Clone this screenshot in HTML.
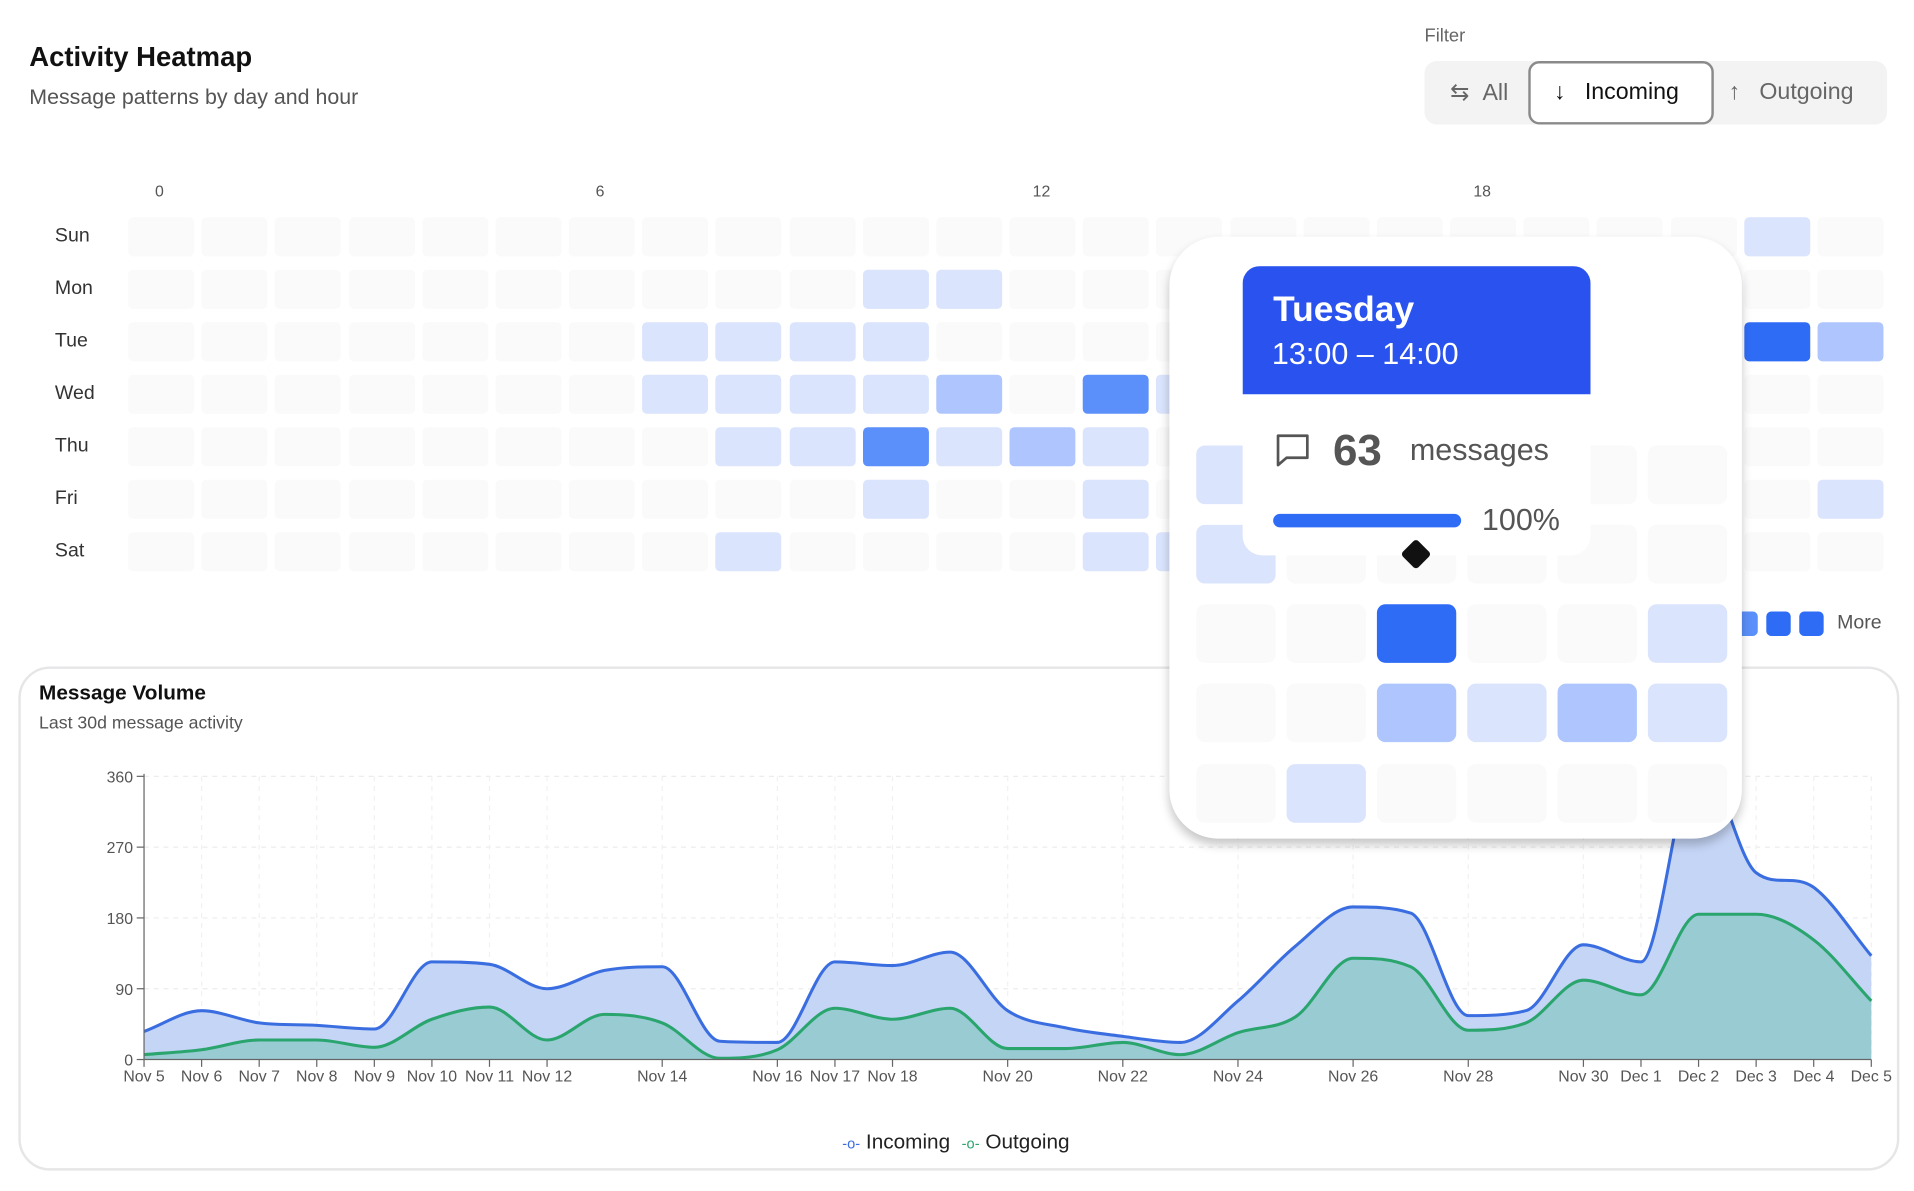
<!DOCTYPE html>
<html><head><meta charset="utf-8">
<style>
html,body{margin:0;padding:0;background:#fff;width:1914px;height:1191px;overflow:hidden}
#w{position:absolute;left:0;top:0;width:1568px;height:976px;transform:scale(1.22066);transform-origin:0 0;font-family:"Liberation Sans",sans-serif;color:#111}
.a{position:absolute;white-space:nowrap}
.c{position:absolute;border-radius:4px}
</style></head><body><div id="w">
<div class="a" style="left:24px;top:34px;font-size:22.5px;font-weight:bold">Activity Heatmap</div>
<div class="a" style="left:24px;top:69px;font-size:17.5px;color:#555">Message patterns by day and hour</div>
<div class="a" style="left:1167px;top:21px;font-size:15px;color:#666">Filter</div>
<div class="a" style="left:1167px;top:50px;width:379px;height:52px;background:#f3f3f4;border-radius:10px"></div>
<div class="a" style="left:1188px;top:65px;font-size:19px;color:#666">⇆ &nbsp;All</div>
<div class="a" style="left:1252px;top:50px;width:148px;height:48px;background:#fff;border:2px solid #8a8a8a;border-radius:9px"></div>
<div class="a" style="left:1273px;top:65px;font-size:19px;color:#111">↓ &nbsp;&nbsp;Incoming</div>
<div class="a" style="left:1416px;top:65px;font-size:19px;color:#666">↑ &nbsp;&nbsp;Outgoing</div>
<div class="a" style="left:127px;top:149px;font-size:13px;color:#555">0</div>
<div class="a" style="left:488px;top:149px;font-size:13px;color:#555">6</div>
<div class="a" style="left:846px;top:149px;font-size:13px;color:#555">12</div>
<div class="a" style="left:1207px;top:149px;font-size:13px;color:#555">18</div>
<div id="hm"></div>
<div class="a" style="left:1505px;top:502px;font-size:16px;color:#555">More</div>
<div class="c" style="left:1420px;top:501px;width:20px;height:20px;background:#5b8ff9"></div>
<div class="c" style="left:1447px;top:501px;width:20px;height:20px;background:#2f6cf6"></div>
<div class="c" style="left:1474px;top:501px;width:20px;height:20px;background:#2f6cf6"></div>

<div class="a" style="left:15px;top:546px;width:1537px;height:409px;border:2px solid #e6e6e8;border-radius:26px"></div>
<div class="a" style="left:32px;top:558px;font-size:17px;font-weight:bold">Message Volume</div>
<div class="a" style="left:32px;top:585px;font-size:14.5px;color:#555">Last 30d message activity</div>
<svg class="a" style="left:0;top:0" width="1568" height="976" id="ch"></svg>
<div class="a" style="left:690px;top:926px;font-size:17px;color:#222"><span style="color:#3a6ee0;font-size:12px">-o-</span> Incoming &nbsp;<span style="color:#2aa56e;font-size:12px">-o-</span> Outgoing</div>

<div class="a" style="left:958px;top:194px;width:469px;height:493px;background:#fff;border-radius:40px;box-shadow:0 5px 8px rgba(0,0,0,.22);overflow:hidden" id="lens"></div>
<div class="a" style="left:1018px;top:218px;width:285px;height:237px;background:#fff;border-radius:0 0 16px 16px;overflow:hidden">
 <div style="position:absolute;left:0;top:0;width:285px;height:105px;background:#2952ee;border-radius:14px 14px 0 0"></div>
 <div class="a" style="left:25px;top:20px;font-size:29px;font-weight:bold;color:#fff">Tuesday</div>
 <div class="a" style="left:24px;top:58px;font-size:25px;color:#fff">13:00 – 14:00</div>
 <svg class="a" style="left:26px;top:136px" width="30" height="30"><path d="M3 3h24v18H10l-7 6z" fill="none" stroke="#555" stroke-width="2.2" stroke-linejoin="round"/></svg>
 <div class="a" style="left:74px;top:130px;font-size:36px;font-weight:bold;color:#555">63</div>
 <div class="a" style="left:137px;top:137px;font-size:25px;color:#555">messages</div>
 <div class="a" style="left:25px;top:203px;width:154px;height:11px;background:#2f6cf6;border-radius:6px"></div>
 <div class="a" style="left:196px;top:194px;font-size:25px;color:#555">100%</div>
</div>
<div class="a" style="left:1151px;top:445px;width:18px;height:18px;background:#111;transform:rotate(45deg);border-radius:3px"></div>
</div>
<script>
var E='#fafafb',L='#dae4fd',M='#aec6fd',D='#5b8ff9',X='#2f6cf6';
var days=['Sun','Mon','Tue','Wed','Thu','Fri','Sat'];
var spec={0:{22:L},1:{10:L,11:L},2:{7:L,8:L,9:L,10:L,22:X,23:M},3:{7:L,8:L,9:L,10:L,11:M,13:D,14:L},4:{8:L,9:L,10:D,11:L,12:M,13:L},5:{10:L,13:L,23:L},6:{8:L,13:L,14:L}};
var h='';
for(var r=0;r<7;r++){h+='<div class="a" style="left:45px;top:'+(185+r*43)+'px;font-size:16px;color:#333">'+days[r]+'</div>';
for(var c=0;c<24;c++){var col=(spec[r]&&spec[r][c])||E;h+='<div class="c" style="left:'+(105+c*60.17)+'px;top:'+(178+r*43)+'px;width:54px;height:32px;background:'+col+'"></div>';}}
document.getElementById('hm').innerHTML=h;
var lx=[980,1054,1128,1202,1276,1350],ly=[365,430,495,560,626];
var ls={0:{0:L},1:{0:L},2:{2:X,5:L},3:{2:M,3:L,4:M,5:L},4:{1:L}};
var g='';
for(var r=0;r<5;r++)for(var c=0;c<6;c++){var col=(ls[r]&&ls[r][c])||E;g+='<div class="c" style="border-radius:7px;left:'+(lx[c]-958)+'px;top:'+(ly[r]-194)+'px;width:65px;height:48px;background:'+col+'"></div>';}
document.getElementById('lens').innerHTML=g;
var inc=[845,828,838,840,843,788,790,810,795,792,853,854,788,791,780,828,842,849,854,820,775,743,748,832,828,774,788,620,715,727,783];
var out=[864,860,852,852,858,835,825,852,831,838,867,860,826,835,826,859,859,854,864,846,833,785,792,844,838,803,815,749,749,770,820];
function xs(i){return 118+i*47.167;}
function mono(ys){var n=ys.length,x=ys.map(function(_,i){return xs(i)}),d=[],m=[];
for(var i=0;i<n-1;i++)d.push((ys[i+1]-ys[i])/(x[i+1]-x[i]));
m[0]=d[0];m[n-1]=d[n-2];
for(var i=1;i<n-1;i++){if(d[i-1]*d[i]<=0)m[i]=0;else{var s=(d[i-1]+d[i])/2;m[i]=Math.sign(s)*Math.min(Math.abs(s),3*Math.min(Math.abs(d[i-1]),Math.abs(d[i])));}}
var p='M'+x[0]+','+ys[0];
for(var i=0;i<n-1;i++){var hh=(x[i+1]-x[i])/3;p+=' C'+(x[i]+hh)+','+(ys[i]+m[i]*hh)+' '+(x[i+1]-hh)+','+(ys[i+1]-m[i+1]*hh)+' '+x[i+1]+','+ys[i+1];}
return p;}
var s='';
[636,694,752,810].forEach(function(y){s+='<line x1="118" x2="1533" y1="'+y+'" y2="'+y+'" stroke="#ececec" stroke-dasharray="4 4"/>';});
var lab={0:'Nov 5',1:'Nov 6',2:'Nov 7',3:'Nov 8',4:'Nov 9',5:'Nov 10',6:'Nov 11',7:'Nov 12',9:'Nov 14',11:'Nov 16',12:'Nov 17',13:'Nov 18',15:'Nov 20',17:'Nov 22',19:'Nov 24',21:'Nov 26',23:'Nov 28',25:'Nov 30',26:'Dec 1',27:'Dec 2',28:'Dec 3',29:'Dec 4',30:'Dec 5'};
for(var k in lab){var x=xs(+k);s+='<line x1="'+x+'" x2="'+x+'" y1="636" y2="868" stroke="#f1f1f1" stroke-dasharray="4 4"/><line x1="'+x+'" x2="'+x+'" y1="868" y2="874" stroke="#666"/><text x="'+x+'" y="886" font-size="13" fill="#555" text-anchor="middle" font-family="Liberation Sans">'+lab[k]+'</text>';}
var pi=mono(inc),po=mono(out),end=' L1533,868 L118,868 Z';
s+='<path d="'+pi+end+'" fill="#c5d5f6"/><path d="'+po+end+'" fill="#99cbd3"/>';
s+='<path d="'+pi+'" fill="none" stroke="#3a6ee0" stroke-width="2.5"/><path d="'+po+'" fill="none" stroke="#2aa56e" stroke-width="2.5"/>';
s+='<line x1="118" x2="1533" y1="868" y2="868" stroke="#666"/><line x1="118" x2="118" y1="634" y2="868" stroke="#666"/>';
[[0,868],[90,810],[180,752],[270,694],[360,636]].forEach(function(t){s+='<line x1="112" x2="118" y1="'+t[1]+'" y2="'+t[1]+'" stroke="#666"/><text x="109" y="'+(t[1]+5)+'" font-size="13" fill="#555" text-anchor="end" font-family="Liberation Sans">'+t[0]+'</text>';});
document.getElementById('ch').innerHTML=s;
</script>
</body></html>
